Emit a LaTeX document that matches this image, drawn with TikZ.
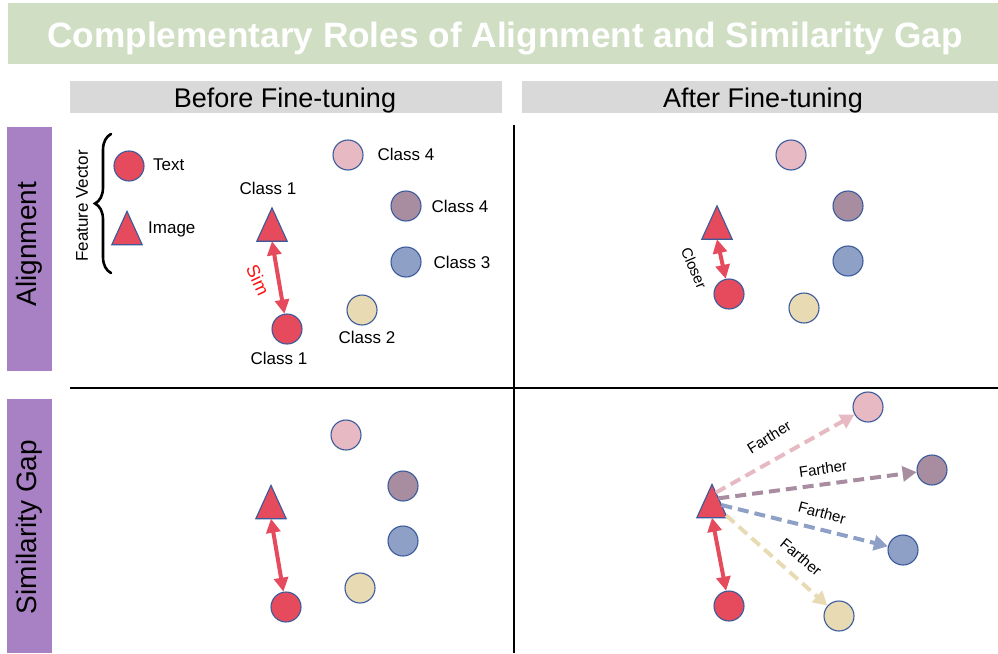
\documentclass[tikz,border=0pt]{standalone}
\usepackage{fontspec}
\setmainfont{Liberation Sans}
\usetikzlibrary{arrows.meta,decorations.pathreplacing,calc}

\definecolor{titlegreen}{HTML}{D0DFC4}
\definecolor{headgray}{HTML}{D9D9D9}
\definecolor{rowpurple}{HTML}{A880C4}
\definecolor{ptred}{HTML}{E54B5C}
\definecolor{ptpink}{HTML}{E6B9C3}
\definecolor{ptmauve}{HTML}{A88DA1}
\definecolor{ptblue}{HTML}{8FA0C6}
\definecolor{ptbeige}{HTML}{E8DBB4}
\definecolor{ptborder}{HTML}{3A5A9B}
\definecolor{simred}{HTML}{FF1010}

\tikzset{
  dot/.style={circle, draw=ptborder, line width=1.1pt, minimum size=30pt, inner sep=0pt},
  trianchor/.style={inner sep=0pt, minimum width=30pt, minimum height=33pt},
  trifill/.style={fill=ptred, draw=ptborder, line width=1.1pt, line join=miter},
  lbl/.style={font=\fontsize{17}{20}\selectfont, inner sep=0pt},
  rowlbl/.style={font=\fontsize{28}{32}\selectfont, inner sep=0pt, rotate=90},
  headlbl/.style={font=\fontsize{27}{30}\selectfont, inner sep=0pt, anchor=base},
  simarrow/.style={draw=ptred, line width=4pt,
    {Triangle[length=14pt,width=14pt]}-{Triangle[length=14pt,width=14pt]}},
  farther/.style={line width=4pt, dash pattern=on 11pt off 6pt,
    -{Triangle[length=14pt,width=15pt]}},
  farlbl/.style={font=\fontsize{15}{18}\selectfont, inner sep=0pt},
  gridline/.style={line width=2.4pt, black},
}

% a red triangle marker: invisible box named #1, centred at #2
\newcommand\markertri[2]{%
  \node[trianchor] (#1) at (#2) {};
  \draw[trifill] (#1.south west) -- (#1.south east) -- (#1.north) -- cycle;}

\begin{document}
\begin{tikzpicture}[x=1pt, y=-1pt]
\useasboundingbox (0,0) rectangle (998,653);

% title bar
\fill[titlegreen] (8,3) rectangle (998,64);
\node[font=\fontsize{35.2}{38}\selectfont\bfseries, text=white, inner sep=0pt, anchor=base]
  (title) at (505,47) {Complementary Roles of Alignment and Similarity Gap};

% column headers
\fill[headgray] (70,81) rectangle (502,113);
\fill[headgray] (522,81) rectangle (998,113);
\node[headlbl] (hbefore) at (285,107) {Before Fine-tuning};
\node[headlbl] (hafter) at (763,107) {After Fine-tuning};

% row headers
\fill[rowpurple] (7,127) rectangle (52,371);
\fill[rowpurple] (7,399) rectangle (52,653);
\node[rowlbl] (ralign) at (29.5,244) {Alignment};
\node[rowlbl] (rgap) at (29.5,527) {Similarity Gap};

% grid
\draw[gridline] (514,125) -- (514,653);
\draw[gridline] (70,388) -- (998,388);

% ---------- legend ----------
\draw[line width=2.6pt, line cap=round, decorate,
  decoration={brace, amplitude=16pt}] (111,273) -- (111,134);
\node[lbl, rotate=90] (fv) at (82,206) {Feature Vector};
\node[dot, fill=ptred] (legc) at (129,166) {};
\node[lbl, anchor=west] (legtext) at (153,165) {Text};
\markertri{legt}{127,228}
\node[lbl, anchor=west] (legimg) at (148,229) {Image};

% ---------- before / alignment ----------
\markertri{ta}{272,224.5}
\node[dot, fill=ptred] (ca) at (287,329) {};
\node[dot, fill=ptpink] (pa) at (348,155) {};
\node[dot, fill=ptmauve] (ma) at (406,206) {};
\node[dot, fill=ptblue] (ba) at (406,262) {};
\node[dot, fill=ptbeige] (ya) at (362,310) {};
\node[lbl] (lta) at (268,188) {Class 1};
\node[lbl] (lca) at (279,358) {Class 1};
\node[lbl] (lya) at (367,337) {Class 2};
\node[lbl] (lpa) at (406,154) {Class 4};
\node[lbl] (lma) at (460,206) {Class 4};
\node[lbl] (lba) at (462,262) {Class 3};
\draw[simarrow] (ta.south) -- (ca);
\node[font=\fontsize{18}{20}\selectfont, text=simred, inner sep=0pt, rotate=-65]
  (sim) at (258,280) {Sim};

% ---------- after / alignment ----------
\markertri{tb}{717,222.5}
\node[dot, fill=ptred] (cb) at (729,294) {};
\node[dot, fill=ptpink] (pb) at (791,155) {};
\node[dot, fill=ptmauve] (mb) at (848,206) {};
\node[dot, fill=ptblue] (bb) at (848,261) {};
\node[dot, fill=ptbeige] (yb) at (804,308) {};
\draw[simarrow] (tb.south) -- (cb);
\node[farlbl, rotate=-67] (closer) at (694,268) {Closer};

% ---------- before / similarity gap ----------
\markertri{tc}{271,502}
\node[dot, fill=ptred] (cc) at (286,607) {};
\node[dot, fill=ptpink] (pc) at (346,435) {};
\node[dot, fill=ptmauve] (mc) at (403,486) {};
\node[dot, fill=ptblue] (bc) at (403,541) {};
\node[dot, fill=ptbeige] (yc) at (360,588) {};
\draw[simarrow] (tc.south) -- (cc);

% ---------- after / similarity gap ----------
\markertri{td}{712,501}
\node[dot, fill=ptred] (cd) at (729,606) {};
\node[dot, fill=ptpink] (pd) at (868,407) {};
\node[dot, fill=ptmauve] (md) at (932,470) {};
\node[dot, fill=ptblue] (bd) at (903,550) {};
\node[dot, fill=ptbeige] (yd) at (839,616) {};
\draw[simarrow] (td.south) -- (cd);
% start points along the right edge of the triangle
\coordinate (sp) at ($(td.north)!0.25!(td.south east)$);
\coordinate (sm) at ($(td.north)!0.42!(td.south east)$);
\coordinate (sb) at ($(td.north)!0.62!(td.south east)$);
\coordinate (sy) at ($(td.north)!0.93!(td.south east)$);
\draw[farther, draw=ptbeige] (sy) -- (yd);
\draw[farther, draw=ptblue] (sb) -- (bd);
\draw[farther, draw=ptmauve] (sm) -- (md);
\draw[farther, draw=ptpink] (sp) -- (pd);
\node[farlbl, rotate=32] (fp) at (769,437) {Farther};
\node[farlbl, rotate=8] (fm) at (823,469) {Farther};
\node[farlbl, rotate=-15] (fb) at (822,513) {Farther};
\node[farlbl, rotate=-40] (fy) at (801,557) {Farther};
\end{tikzpicture}
\end{document}
